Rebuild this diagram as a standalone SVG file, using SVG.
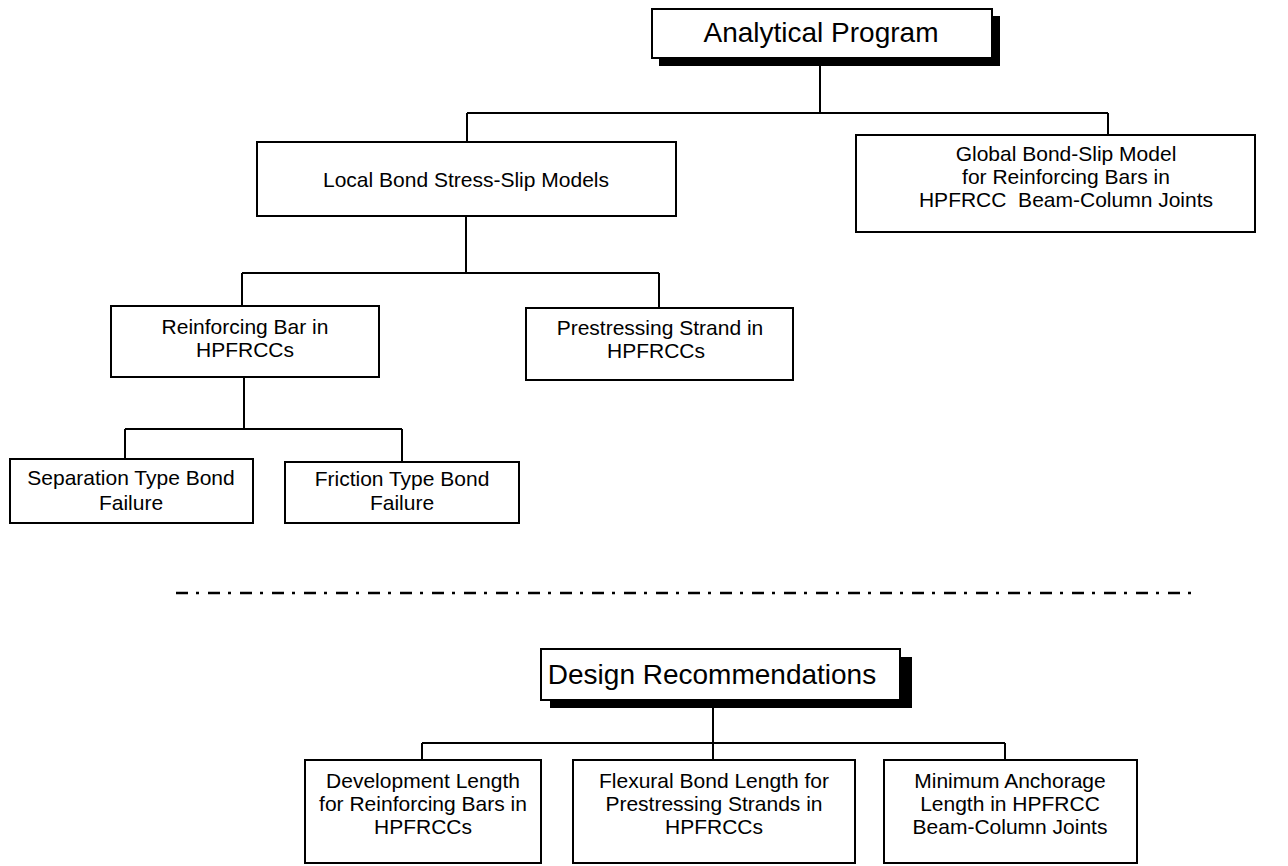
<svg xmlns="http://www.w3.org/2000/svg" width="1288" height="866" viewBox="0 0 1288 866">
<style>
  .box { fill: #fff; stroke: #000; stroke-width: 2; }
  .shadow { fill: #000; stroke: none; }
  .t { font-family: "Liberation Sans", Arial, sans-serif; font-size: 21px; fill: #000; text-anchor: middle; }
  .title { font-size: 28px; }
  .conn { fill: none; stroke: #000; stroke-width: 2; }
  .sep { fill: none; stroke: #000; stroke-width: 2.5; stroke-dasharray: 12 8 3 9; }
</style>
<rect width="1288" height="866" fill="#fff"/>

<g id="connectors">
  <path class="conn" d="M820 66 V113 M467 113 H1108 M467 113 V142 M1108 113 V135"/>
  <path class="conn" d="M466 216 V273 M242 273 H659 M242 273 V306 M659 273 V308"/>
  <path class="conn" d="M244 377 V429 M125 429 H402 M125 429 V459 M402 429 V462"/>
  <path class="conn" d="M713 708 V743 M422 743 H1005 M422 743 V760 M713 743 V760 M1005 743 V760"/>
</g>

<g id="analytical-program">
  <rect class="shadow" x="659" y="16" width="341" height="50"/>
  <rect class="box" x="652" y="9" width="340" height="49"/>
  <text class="t title" x="821" y="42">Analytical Program</text>
</g>

<g id="local-bond">
  <rect class="box" x="257" y="142" width="419" height="74"/>
  <text class="t" x="466" y="187">Local Bond Stress-Slip Models</text>
</g>

<g id="global-bond">
  <rect class="box" x="856" y="135" width="399" height="97"/>
  <text class="t" x="1066" y="161">Global Bond-Slip Model</text>
  <text class="t" x="1066" y="184">for Reinforcing Bars in</text>
  <text class="t" x="1066" y="207" xml:space="preserve">HPFRCC  Beam-Column Joints</text>
</g>

<g id="reinforcing-bar">
  <rect class="box" x="111" y="306" width="268" height="71"/>
  <text class="t" x="245" y="334">Reinforcing Bar in</text>
  <text class="t" x="245" y="357">HPFRCCs</text>
</g>

<g id="prestressing-strand">
  <rect class="box" x="526" y="308" width="267" height="72"/>
  <text class="t" x="660" y="335">Prestressing Strand in</text>
  <text class="t" x="656" y="358">HPFRCCs</text>
</g>

<g id="separation-type">
  <rect class="box" x="10" y="459" width="243" height="64"/>
  <text class="t" x="131" y="485">Separation Type Bond</text>
  <text class="t" x="131" y="510">Failure</text>
</g>

<g id="friction-type">
  <rect class="box" x="285" y="462" width="234" height="61"/>
  <text class="t" x="402" y="486">Friction Type Bond</text>
  <text class="t" x="402" y="510">Failure</text>
</g>

<path class="sep" d="M176 593 H1196"/>

<g id="design-recommendations">
  <rect class="shadow" x="550" y="657" width="362" height="51"/>
  <rect class="box" x="541" y="649" width="359" height="51"/>
  <text class="t title" x="712" y="684">Design Recommendations</text>
</g>

<g id="development-length">
  <rect class="box" x="305" y="760" width="236" height="103"/>
  <text class="t" x="423" y="788">Development Length</text>
  <text class="t" x="423" y="811">for Reinforcing Bars in</text>
  <text class="t" x="423" y="834">HPFRCCs</text>
</g>

<g id="flexural-bond-length">
  <rect class="box" x="573" y="760" width="282" height="103"/>
  <text class="t" x="714" y="788">Flexural Bond Length for</text>
  <text class="t" x="714" y="811">Prestressing Strands in</text>
  <text class="t" x="714" y="834">HPFRCCs</text>
</g>

<g id="minimum-anchorage">
  <rect class="box" x="884" y="760" width="253" height="103"/>
  <text class="t" x="1010" y="788">Minimum Anchorage</text>
  <text class="t" x="1010" y="811">Length in HPFRCC</text>
  <text class="t" x="1010" y="834">Beam-Column Joints</text>
</g>
</svg>
